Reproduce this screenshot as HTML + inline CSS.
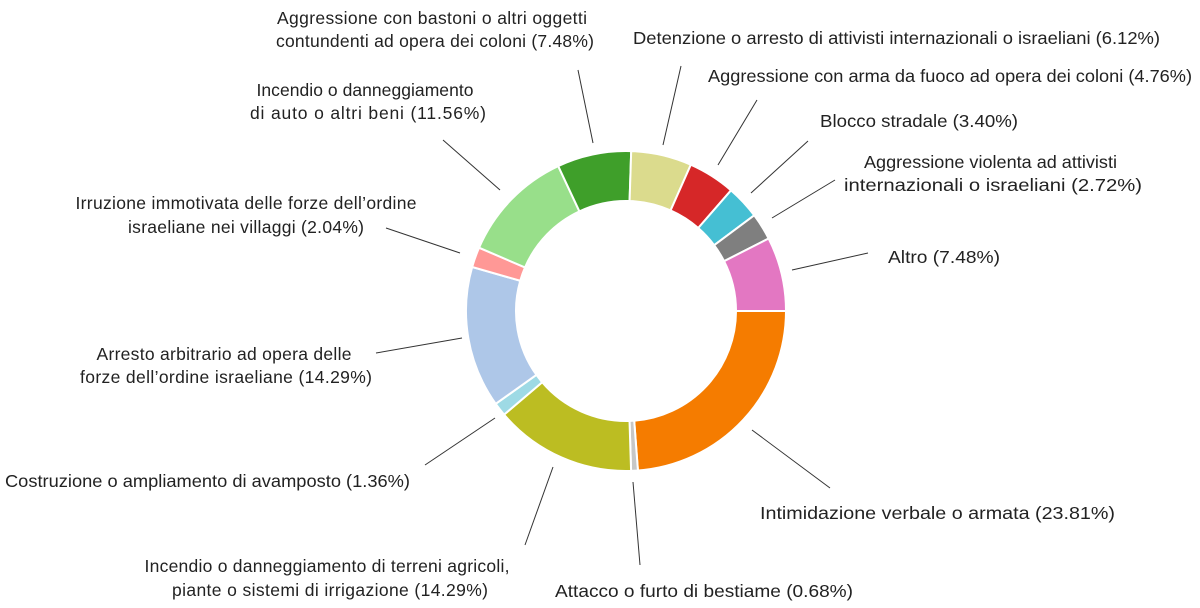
<!DOCTYPE html>
<html><head><meta charset="utf-8"><style>
html,body{margin:0;padding:0;background:#fff;}
svg text{font-family:"Liberation Sans","DejaVu Sans",sans-serif;font-size:17.5px;fill:#222;}
</style></head><body>
<svg id="s" width="1200" height="603" viewBox="0 0 1200 603" xmlns="http://www.w3.org/2000/svg">
<g id="slices"></g>
<g stroke="#333" stroke-width="1" fill="none">
<line x1="578" y1="70" x2="593" y2="143"/>
<line x1="681" y1="66" x2="663" y2="145"/>
<line x1="757" y1="100" x2="718" y2="165"/>
<line x1="808" y1="141" x2="751" y2="193"/>
<line x1="835" y1="180" x2="772" y2="218"/>
<line x1="868" y1="253" x2="792" y2="270"/>
<line x1="752" y1="430" x2="830" y2="488"/>
<line x1="633" y1="482" x2="640" y2="565"/>
<line x1="553" y1="467" x2="525" y2="545"/>
<line x1="495" y1="418" x2="425" y2="465"/>
<line x1="462" y1="338" x2="376" y2="353"/>
<line x1="460" y1="253" x2="386" y2="228"/>
<line x1="500" y1="190" x2="443" y2="140"/>
</g>
<g>
<text x="432" y="24" text-anchor="middle" textLength="310" lengthAdjust="spacing">Aggressione con bastoni o altri oggetti</text>
<text x="435" y="47" text-anchor="middle" textLength="318" lengthAdjust="spacing">contundenti ad opera dei coloni (7.48%)</text>
<text x="633" y="44" textLength="527" lengthAdjust="spacingAndGlyphs">Detenzione o arresto di attivisti internazionali o israeliani (6.12%)</text>
<text x="708" y="82" textLength="484" lengthAdjust="spacingAndGlyphs">Aggressione con arma da fuoco ad opera dei coloni (4.76%)</text>
<text x="820" y="127" textLength="198" lengthAdjust="spacingAndGlyphs">Blocco stradale (3.40%)</text>
<text x="864" y="168" textLength="253" lengthAdjust="spacingAndGlyphs">Aggressione violenta ad attivisti</text>
<text x="844" y="191" textLength="298" lengthAdjust="spacingAndGlyphs">internazionali o israeliani (2.72%)</text>
<text x="888" y="263" textLength="112" lengthAdjust="spacingAndGlyphs">Altro (7.48%)</text>
<text x="760" y="519" textLength="355" lengthAdjust="spacingAndGlyphs">Intimidazione verbale o armata (23.81%)</text>
<text x="555" y="597" textLength="298" lengthAdjust="spacingAndGlyphs">Attacco o furto di bestiame (0.68%)</text>
<text x="327" y="572" text-anchor="middle" textLength="365" lengthAdjust="spacing">Incendio o danneggiamento di terreni agricoli,</text>
<text x="330" y="596" text-anchor="middle" textLength="316" lengthAdjust="spacing">piante o sistemi di irrigazione (14.29%)</text>
<text x="224" y="360" text-anchor="middle" textLength="255" lengthAdjust="spacing">Arresto arbitrario ad opera delle</text>
<text x="226" y="383" text-anchor="middle" textLength="292" lengthAdjust="spacing">forze dell’ordine israeliane (14.29%)</text>
<text x="246" y="209" text-anchor="middle" textLength="341" lengthAdjust="spacing">Irruzione immotivata delle forze dell’ordine</text>
<text x="246" y="233" text-anchor="middle" textLength="236" lengthAdjust="spacing">israeliane nei villaggi (2.04%)</text>
<text x="365" y="96" text-anchor="middle" textLength="217" lengthAdjust="spacing">Incendio o danneggiamento</text>
<text x="368" y="119" text-anchor="middle" textLength="236" lengthAdjust="spacing">di auto o altri beni (11.56%)</text>
<text x="5" y="487" textLength="405" lengthAdjust="spacingAndGlyphs">Costruzione o ampliamento di avamposto (1.36%)</text>
</g>
</svg>
<script>
var data=[[23.81,"#f57c00"],[0.68,"#c7c7c7"],[14.29,"#bcbd22"],[1.36,"#9edae5"],[14.29,"#aec7e8"],[2.04,"#ff9896"],[11.56,"#98df8a"],[7.48,"#3f9f2a"],[6.12,"#dbdb8d"],[4.76,"#d62728"],[3.40,"#45bfd3"],[2.72,"#7f7f7f"],[7.48,"#e377c2"]];
var cx=626,cy=311,R=160,r=110,a=0,g=document.getElementById("slices"),tot=99.99;
function p(rad,an){return (cx+rad*Math.cos(an)).toFixed(2)+","+(cy+rad*Math.sin(an)).toFixed(2);}
data.forEach(function(d){var b=a+d[0]/tot*2*Math.PI,l=(b-a)>Math.PI?1:0;
var path="M"+p(R,a)+"A"+R+","+R+" 0 "+l+" 1 "+p(R,b)+"L"+p(r,b)+"A"+r+","+r+" 0 "+l+" 0 "+p(r,a)+"Z";
var e=document.createElementNS("http://www.w3.org/2000/svg","path");e.setAttribute("d",path);e.setAttribute("fill",d[1]);e.setAttribute("stroke","#fff");e.setAttribute("stroke-width","2");g.appendChild(e);a=b;});
</script>
</body></html>
